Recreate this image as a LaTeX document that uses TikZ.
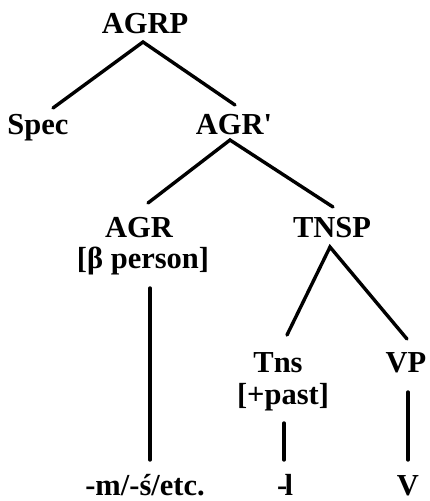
\documentclass[tikz,border=0pt]{standalone}
\usepackage{fontspec}
\setmainfont{Liberation Serif}
\begin{document}
\begin{tikzpicture}[x=1pt,y=-1pt,
  lbl/.style={anchor=base,inner sep=0pt,font=\bfseries\fontsize{30.5}{36}\selectfont},
  branch/.style={line width=3.4pt,line cap=round}]
\useasboundingbox (0,0) rectangle (429,501);

% labels
\node[lbl] (agrp)    at (145,33)  {AGRP};
\node[lbl] (spec)    at (38,134)  {Spec};
\node[lbl] (agrbar)  at (234,134) {AGR\textquotesingle};
\node[lbl] (agr)     at (139,237) {AGR};
\node[lbl] (agrfeat) at (143,268) {[β person]};
\node[lbl] (tnsp)    at (332,237) {TNSP};
\node[lbl] (tns)     at (278,372) {Tns};
\node[lbl] (past)    at (283,404) {[+past]};
\node[lbl] (vp)      at (406,372) {VP};
\node[lbl] (agraff)  at (145,495) {-m/-ś/etc.};
\node[lbl] (tnsaff)  at (285,495) {-\kern-0.09em l};
\node[lbl] (verb)    at (408,495) {V};

% branch end points
\coordinate (agrp-foot)    at (143,42);
\coordinate (spec-top)     at (53,108);
\coordinate (agrbar-top)   at (235,105);
\coordinate (agrbar-foot)  at (230,140);
\coordinate (agr-top)      at (148,203);
\coordinate (tnsp-top)     at (333,207);
\coordinate (tnsp-foot)    at (330,247);
\coordinate (tns-top)      at (287,335);
\coordinate (vp-top)       at (407,339);
\coordinate (agrfeat-foot) at (150,288);
\coordinate (agraff-top)   at (150,460);
\coordinate (past-foot)    at (284,423);
\coordinate (tnsaff-top)   at (284,460);
\coordinate (vp-foot)      at (408,392);
\coordinate (verb-top)     at (408,460);

% branches
\draw[branch] (spec-top) -- (agrp-foot) -- (agrbar-top);
\draw[branch] (agr-top) -- (agrbar-foot) -- (tnsp-top);
\draw[branch] (tns-top) -- (tnsp-foot) -- (vp-top);
\draw[branch] (agrfeat-foot) -- (agraff-top);
\draw[branch] (past-foot) -- (tnsaff-top);
\draw[branch] (vp-foot) -- (verb-top);
\end{tikzpicture}
\end{document}
